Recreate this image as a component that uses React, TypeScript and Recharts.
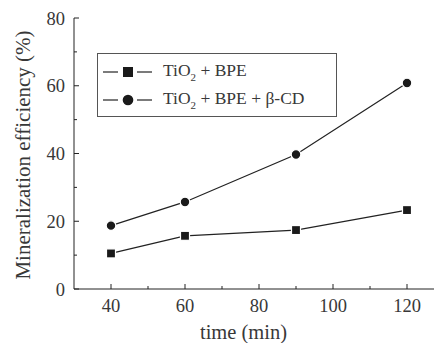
import React from "react";
import { LineChart, Line, XAxis, YAxis, Legend } from "recharts";

const times = [40, 60, 90, 120];
const tioBpe = [10.5, 15.7, 17.4, 23.3];
const tioBpeCd = [18.7, 25.7, 39.7, 60.8];
const xTicks = [40, 50, 60, 70, 80, 90, 100, 110, 120];
const yTicks = [0, 10, 20, 30, 40, 50, 60, 70, 80];

const data = times.map((t, i) => ({ t, a: tioBpe[i], b: tioBpeCd[i] }));

const FONT = "Liberation Serif";
const INK = "#222";
const TXT = "#383838";

const XTick = (props: any) => {
  const { x, y, payload } = props;
  const major = payload.value % 20 === 0;
  return (
    <g>
      <line x1={x} x2={x} y1={y} y2={y - (major ? 5 : 3)} stroke={INK} strokeWidth={1} />
      {major && (
        <text x={x} y={y + 23} textAnchor="middle" fontFamily={FONT} fontSize={18.5} fill={TXT}>
          {payload.value}
        </text>
      )}
    </g>
  );
};

const YTick = (props: any) => {
  const { x, y, payload } = props;
  const major = payload.value % 20 === 0;
  return (
    <g>
      <line x1={x} x2={x + (major ? 5 : 3)} y1={y} y2={y} stroke={INK} strokeWidth={1} />
      {major && (
        <text x={x - 9} y={y + 6.5} textAnchor="end" fontFamily={FONT} fontSize={18.5} fill={TXT}>
          {payload.value}
        </text>
      )}
    </g>
  );
};

const SquareDot = (props: any) => {
  const { cx, cy } = props;
  if (cx == null || cy == null) return null;
  return <rect x={cx - 4.5} y={cy - 4.5} width={9} height={9} fill="#1a1a1a" stroke="#fff" strokeWidth={1.2} />;
};

const CircleDot = (props: any) => {
  const { cx, cy } = props;
  if (cx == null || cy == null) return null;
  return <circle cx={cx} cy={cy} r={4.8} fill="#1a1a1a" stroke="#fff" strokeWidth={1.2} />;
};

const LegendBox = () => {
  const row = (marker: "square" | "circle", label: React.ReactNode) => (
    <div style={{ display: "flex", alignItems: "center", height: 28 }}>
      <svg width={60} height={20} style={{ flex: "none" }}>
        <line x1={5} x2={20} y1={10} y2={10} stroke={INK} strokeWidth={1.2} />
        <line x1={39} x2={54} y1={10} y2={10} stroke={INK} strokeWidth={1.2} />
        {marker === "square" ? (
          <rect x={25} y={5} width={10} height={10} fill="#1a1a1a" />
        ) : (
          <circle cx={30} cy={10} r={5.3} fill="#1a1a1a" />
        )}
      </svg>
      <span style={{ marginLeft: 5, whiteSpace: "nowrap" }}>{label}</span>
    </div>
  );
  return (
    <div
      style={{
        width: 240,
        height: 64,
        boxSizing: "border-box",
        border: "1px solid #555",
        background: "#fff",
        fontFamily: FONT,
        fontSize: 17.5,
        color: TXT,
        paddingTop: 4,
        lineHeight: 1,
      }}
    >
      {row(
        "square",
        <>
          TiO<sub style={{ fontSize: 11, verticalAlign: -5 }}>2</sub> + BPE
        </>
      )}
      {row(
        "circle",
        <>
          TiO<sub style={{ fontSize: 11, verticalAlign: -5 }}>2</sub> + BPE + β-CD
        </>
      )}
    </div>
  );
};

export default function App() {
  return (
    <div style={{ position: "absolute", left: 0, top: 0, width: 434, height: 343, overflow: "hidden", background: "#fff" }}>
      <LineChart width={450} height={343} data={data} margin={{ top: 18, right: 6, left: 0, bottom: 0 }}>
        <XAxis
          dataKey="t"
          type="number"
          domain={[30, 130]}
          ticks={xTicks}
          interval={0}
          height={54}
          tickSize={0}
          tickMargin={0}
          tickLine={false}
          tick={<XTick />}
          axisLine={{ stroke: INK, strokeWidth: 1 }}
          allowDataOverflow
          label={(p: any) => (
            <text x={243.5} y={339} textAnchor="middle" fontFamily={FONT} fontSize={20.5} fill={TXT}>
              time (min)
            </text>
          )}
        />
        <YAxis
          type="number"
          domain={[0, 80]}
          ticks={yTicks}
          interval={0}
          width={74}
          tickSize={0}
          tickMargin={0}
          tickLine={false}
          tick={<YTick />}
          axisLine={{ stroke: INK, strokeWidth: 1 }}
          label={(p: any) => (
            <text
              x={30}
              y={155}
              transform="rotate(-90 30 155)"
              textAnchor="middle"
              fontFamily={FONT}
              fontSize={21}
              fill={TXT}
            >
              Mineralization efficiency (%)
            </text>
          )}
        />
        <Legend
          layout="vertical"
          align="center"
          verticalAlign="middle"
          content={() => <LegendBox />}
          wrapperStyle={{ position: "absolute", left: 97, top: 53, width: 240, height: 64 }}
        />
        <Line
          dataKey="a"
          type="linear"
          stroke={INK}
          strokeWidth={1.2}
          dot={<SquareDot />}
          isAnimationActive={false}
        />
        <Line
          dataKey="b"
          type="linear"
          stroke={INK}
          strokeWidth={1.2}
          dot={<CircleDot />}
          isAnimationActive={false}
        />
      </LineChart>
    </div>
  );
}
